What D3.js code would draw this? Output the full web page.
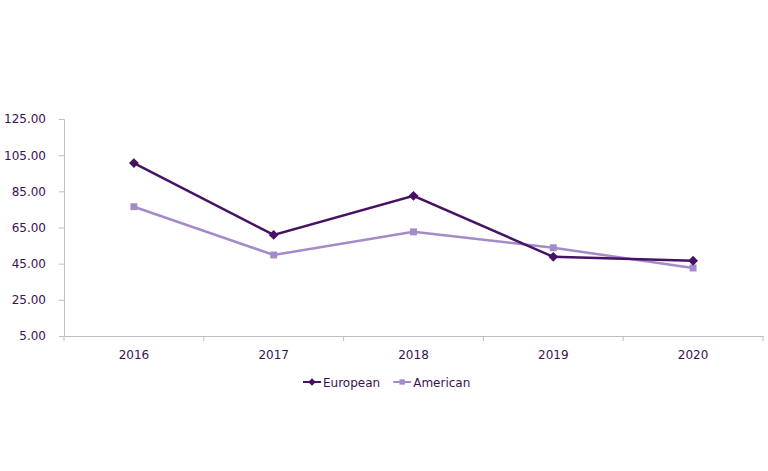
<!DOCTYPE html>
<html>
<head>
<meta charset="utf-8">
<script src="https://cdn.jsdelivr.net/npm/d3@7"></script>
<style>
  body { margin: 0; background: #fff; }
  text { font-family: "DejaVu Sans", Verdana, sans-serif; fill: #3c1053; }
</style>
</head>
<body>
<svg width="768" height="471"></svg>
<script>
const years = ['2016', '2017', '2018', '2019', '2020'];
const european = [100.6, 60.9, 82.5, 48.8, 46.6];
const american = [76.5, 49.8, 62.6, 53.8, 42.6];
const yTicks = [5, 25, 45, 65, 85, 105, 125];

const svg = d3.select('svg');
const margin = { top: 119, left: 64, right: 5, bottom: 135 };
const width = 768 - margin.left - margin.right;
const height = 471 - margin.top - margin.bottom;

const x = d3.scaleBand().domain(years).range([0, width]);
const y = d3.scaleLinear().domain([5, 125]).range([height, 0]);

const g = svg.append('g').attr('transform', `translate(${margin.left},${margin.top})`);

// y axis
const yAxis = g.append('g')
    .call(d3.axisLeft(y).tickValues(yTicks).tickFormat(d3.format('.2f')).tickSize(5).tickPadding(13));
yAxis.select('.domain').attr('stroke', '#bfbfbf');
yAxis.selectAll('.tick line').attr('stroke', '#bfbfbf');
yAxis.selectAll('text').style('font-size', '12px').attr('fill', '#3c1053');

// x axis with ticks between categories
const xAxis = g.append('g').attr('transform', `translate(0,${height})`)
    .call(d3.axisBottom(x).tickSize(0).tickPadding(14));
xAxis.select('.domain').attr('stroke', '#bfbfbf');
xAxis.selectAll('text').style('font-size', '12px').attr('fill', '#3c1053');
const edges = years.map((d) => x(d)).concat([width]);
xAxis.selectAll('.sep').data(edges).join('line')
    .attr('x1', (d) => d).attr('x2', (d) => d)
    .attr('y1', 0).attr('y2', 5)
    .attr('stroke', '#bfbfbf');

const cx = (d, i) => x(years[i]) + x.bandwidth() / 2;
const line = d3.line().x(cx).y((d) => y(d));

const series = [
    { name: 'European', values: european, color: '#461264', rotate: 45, size: 48 },
    { name: 'American', values: american, color: '#a38bc9', rotate: 0, size: 48 },
];

// draw American first so European is on top
[series[1], series[0]].forEach((s) => {
    g.append('path')
        .attr('d', line(s.values))
        .attr('fill', 'none')
        .attr('stroke', s.color)
        .attr('stroke-width', 2.5);
    g.selectAll(null).data(s.values).join('path')
        .attr('transform', (d, i) => `translate(${cx(d, i)},${y(d)}) rotate(${s.rotate})`)
        .attr('d', d3.symbol().type(d3.symbolSquare).size(s.size))
        .attr('fill', s.color);
});

// legend
const legend = svg.append('g').attr('transform', 'translate(303,382)');
let lx = 0;
series.forEach((s) => {
    const item = legend.append('g').attr('transform', `translate(${lx},0)`);
    item.append('line').attr('x1', 0).attr('x2', 18).attr('y1', 0).attr('y2', 0)
        .attr('stroke', s.color).attr('stroke-width', 2);
    item.append('path').attr('transform', `translate(9,0) rotate(${s.rotate})`)
        .attr('d', d3.symbol().type(d3.symbolSquare).size(s.size * 0.6)).attr('fill', s.color);
    const t = item.append('text').attr('x', 20).attr('y', 4.5)
        .style('font-size', '12px').text(s.name);
    lx += 20 + t.node().getComputedTextLength() + 13;
});
</script>
</body>
</html>
